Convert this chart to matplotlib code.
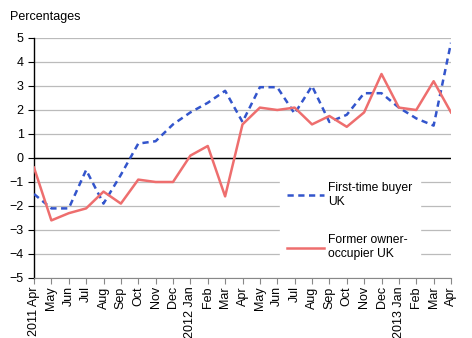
import matplotlib
matplotlib.use("Agg")
import matplotlib.pyplot as plt
import numpy as np

months = ["2011 Apr", "May", "Jun", "Jul", "Aug", "Sep", "Oct", "Nov", "Dec",
          "2012 Jan", "Feb", "Mar", "Apr", "May", "Jun", "Jul", "Aug", "Sep",
          "Oct", "Nov", "Dec", "2013 Jan", "Feb", "Mar", "Apr"]

first_time = [-1.5, -2.1, -2.1, -0.5, -1.9, -0.7, 0.6, 0.7, 1.4,
              1.9, 2.3, 2.8, 1.5, 2.95, 2.95, 1.85, 3.0, 1.5,
              1.8, 2.7, 2.7, 2.1, 1.65, 1.35, 4.8]

former_owner = [-0.4, -2.6, -2.3, -2.1, -1.4, -1.9, -0.9, -1.0, -1.0,
                0.1, 0.5, -1.6, 1.4, 2.1, 2.0, 2.1, 1.4, 1.75,
                1.3, 1.9, 3.5, 2.1, 2.0, 3.2, 1.9]

def main():
    fig = plt.figure(figsize=(4.72, 3.38), dpi=100)
    ax = fig.add_axes([34 / 472, 60 / 338, 417 / 472, 240 / 338])

    x = np.arange(len(months))
    ax.plot(x, first_time, color="#3355cc", lw=1.8, ls=(0, (2.5, 1.8)),
            label="First-time buyer\nUK", zorder=3)
    ax.plot(x, former_owner, color="#ee6e6e", lw=1.8,
            label="Former owner-\noccupier UK", zorder=3)

    ax.set_xlim(0, len(months) - 1)
    ax.set_ylim(-5, 5)
    ax.set_yticks(range(-5, 6))
    ax.set_xticks(x)
    ax.set_xticklabels(months, rotation=90, fontsize=9)
    ax.tick_params(axis="y", labelsize=9, length=4, width=0.8)
    ax.tick_params(axis="x", length=4, width=0.8, color="#888888", pad=2)
    for lab in ax.get_yticklabels() + ax.get_xticklabels():
        lab.set_family("Liberation Sans")

    ax.grid(axis="y", color="#bbbbbb", lw=0.9, zorder=0)
    ax.axhline(0, color="black", lw=1.0, zorder=2)
    for s in ["top", "right"]:
        ax.spines[s].set_visible(False)
    ax.spines["bottom"].set_color("#888888")
    ax.spines["left"].set_linewidth(1.0)

    fig.text(10 / 472, 1 - 17 / 338, "Percentages", fontsize=9,
             family="Liberation Sans", va="center")

    leg = ax.legend(loc="center left", bbox_to_anchor=(0.59, 0.237),
                    borderaxespad=0, borderpad=0.6,
                    frameon=True, fancybox=False, edgecolor="white",
                    framealpha=1, handlelength=3.0, handletextpad=0.4,
                    labelspacing=2.2,
                    prop={"family": "Liberation Sans", "size": 8.7})
    leg.set_zorder(4)

    fig.savefig("out.png", dpi=100)

main()
